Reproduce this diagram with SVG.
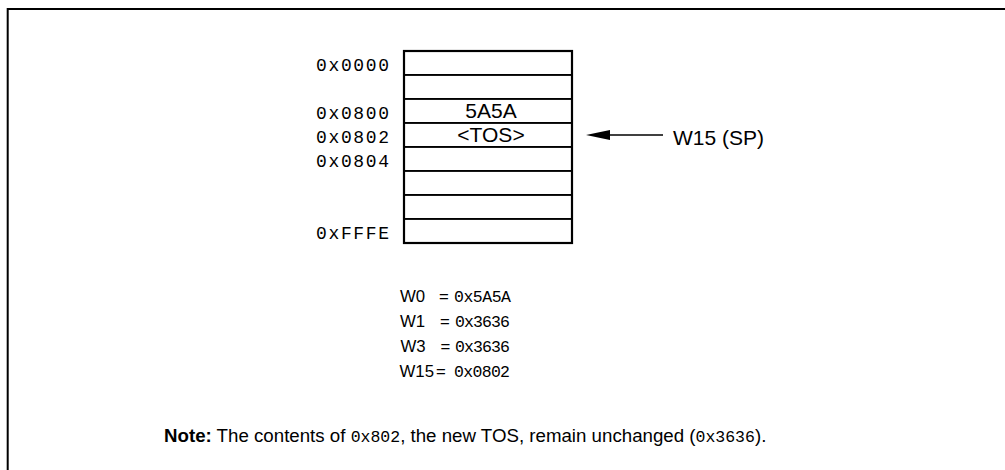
<svg xmlns="http://www.w3.org/2000/svg" width="1005" height="470" viewBox="0 0 1005 470">
<style>
.frame{fill:none;stroke:#000;stroke-width:2}
.cell{fill:#fff;stroke:#000;stroke-width:1.8}
.addr{font-family:"Liberation Mono","Courier New",monospace;font-size:18px;fill:#000;text-anchor:end}
.mono{font-family:"Liberation Mono","Courier New",monospace;font-size:16.5px;fill:#000}
.sans{font-family:"Liberation Sans",Arial,Helvetica,sans-serif;font-size:21px;fill:#000}
.reg{font-family:"Liberation Sans",Arial,Helvetica,sans-serif;font-size:16.8px;fill:#000}
.note{font-family:"Liberation Sans",Arial,Helvetica,sans-serif;font-size:18.7px;fill:#000}
.mid{text-anchor:middle}
.bold{font-weight:bold}
.conn{stroke:#000;stroke-width:1.7;fill:none}
</style>
<rect width="1005" height="470" fill="#fff"/>
<path class="frame" d="M7.7,470 V9 H1005"/>

<g id="memory">
<g id="cell-0000"><rect class="cell" x="404" y="51" width="168" height="24"/><text class="addr" x="389" y="71" textLength="73" lengthAdjust="spacing">0x0000</text></g>
<g id="cell-1"><rect class="cell" x="404" y="75" width="168" height="24"/></g>
<g id="cell-0800"><rect class="cell" x="404" y="99" width="168" height="24"/><text class="addr" x="389" y="119" textLength="73" lengthAdjust="spacing">0x0800</text><text class="sans mid" x="491" y="118">5A5A</text></g>
<g id="cell-0802"><rect class="cell" x="404" y="123" width="168" height="24"/><text class="addr" x="389" y="143" textLength="73" lengthAdjust="spacing">0x0802</text><text class="sans mid" x="491" y="142">&lt;TOS&gt;</text></g>
<g id="cell-0804"><rect class="cell" x="404" y="147" width="168" height="24"/><text class="addr" x="389" y="167" textLength="73" lengthAdjust="spacing">0x0804</text></g>
<g id="cell-5"><rect class="cell" x="404" y="171" width="168" height="24"/></g>
<g id="cell-6"><rect class="cell" x="404" y="195" width="168" height="24"/></g>
<g id="cell-FFFE"><rect class="cell" x="404" y="219" width="168" height="24"/><text class="addr" x="389" y="239" textLength="73" lengthAdjust="spacing">0xFFFE</text></g>
<rect x="404" y="51" width="168" height="192" fill="none" stroke="#000" stroke-width="2.2"/>
</g>

<g id="sp-label">
<text class="sans" x="673" y="145">W15 (SP)</text>
</g>

<g id="connectors">
<line class="conn" x1="663" y1="135" x2="609" y2="135"/>
<path d="M586,135 L610,130 L610,140 Z" fill="#000"/>
</g>

<g id="registers">
<text class="reg" x="400" y="302">W0</text><text class="reg" x="439" y="302">=</text><text class="mono" x="454" y="302" textLength="57" lengthAdjust="spacing">0x5A5A</text>
<text class="reg" x="400" y="327">W1</text><text class="reg" x="440" y="327">=</text><text class="mono" x="455" y="327" textLength="55" lengthAdjust="spacing">0x3636</text>
<text class="reg" x="400.5" y="352">W3</text><text class="reg" x="440.5" y="352">=</text><text class="mono" x="455" y="352" textLength="55" lengthAdjust="spacing">0x3636</text>
<text class="reg" x="399.5" y="377">W15</text><text class="reg" x="436" y="377">=</text><text class="mono" x="454" y="377" textLength="56" lengthAdjust="spacing">0x0802</text>
</g>

<g id="note">
<text class="note" x="164" y="442"><tspan class="bold">Note:</tspan> The contents of <tspan font-family="Liberation Mono, monospace" font-size="16.5">0x802</tspan>, the new TOS, remain unchanged (<tspan font-family="Liberation Mono, monospace" font-size="16.5">0x3636</tspan>).</text>
</g>
</svg>
